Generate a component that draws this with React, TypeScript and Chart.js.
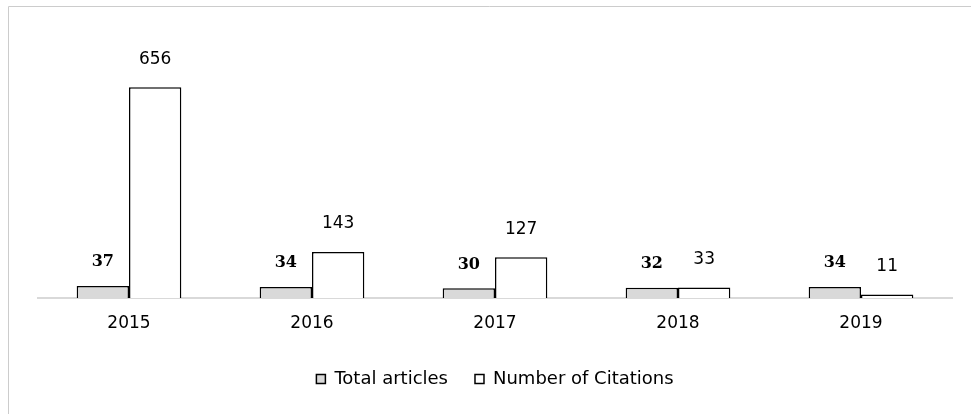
import React, { useEffect, useRef } from "react";
import { Chart, registerables } from "chart.js";

Chart.register(...registerables);

const years = ["2015", "2016", "2017", "2018", "2019"];
const totalArticles = [37, 34, 30, 32, 34];
const citations = [656, 143, 127, 33, 11];
const seriesNames = ["Total articles", "Number of Citations"];
const yMax = 700;

const valueLabelPlugin = {
  id: "valueLabels",
  afterDatasetsDraw(chart: any) {
    const ctx = chart.ctx;
    ctx.save();
    ctx.textAlign = "center";
    ctx.textBaseline = "middle";
    ctx.fillStyle = "#000000";
    chart.data.datasets.forEach((ds: any, di: number) => {
      const meta = chart.getDatasetMeta(di);
      ctx.font = di === 0 ? "bold 16px 'DejaVu Serif'" : "17px 'DejaVu Sans'";
      const off = di === 0 ? 24 : 28;
      meta.data.forEach((bar: any, i: number) => {
        ctx.fillText(String(ds.data[i]), bar.x, bar.y - off);
      });
    });
    ctx.restore();
  },
};

const framePlugin = {
  id: "frame",
  beforeDraw(chart: any) {
    const ctx = chart.ctx;
    ctx.save();
    ctx.strokeStyle = "#cccccc";
    ctx.lineWidth = 1;
    ctx.beginPath();
    ctx.moveTo(8.5, chart.height);
    ctx.lineTo(8.5, 6.5);
    ctx.lineTo(chart.width, 6.5);
    ctx.stroke();
    ctx.restore();
  },
};

export default function App() {
  const ref = useRef<HTMLCanvasElement | null>(null);

  useEffect(() => {
    if (!ref.current) return;
    const chart = new Chart(ref.current, {
      type: "bar",
      data: {
        labels: years,
        datasets: [
          {
            label: seriesNames[0],
            data: totalArticles,
            backgroundColor: "#d9d9d9",
            borderColor: "#000000",
            borderWidth: 1.5,
            categoryPercentage: 0.572,
            barPercentage: 1,
          },
          {
            label: seriesNames[1],
            data: citations,
            backgroundColor: "#ffffff",
            borderColor: "#000000",
            borderWidth: 1.5,
            categoryPercentage: 0.572,
            barPercentage: 1,
          },
        ],
      },
      options: {
        animation: false,
        responsive: false,
        layout: { padding: { left: 37.5, right: 18.5, top: 73, bottom: 16 } },
        scales: {
          x: {
            grid: { display: false, drawTicks: false },
            border: { display: true, color: "#d9d9d9", width: 2 },
            ticks: {
              color: "#000000",
              font: { family: "'DejaVu Sans'", size: 17 },
              padding: 15,
              maxRotation: 0,
              autoSkip: false,
            },
            afterFit(scale: any) {
              scale.height = 45;
            },
          },
          y: { display: false, min: 0, max: yMax },
        },
        plugins: {
          legend: {
            position: "bottom",
            labels: {
              color: "#000000",
              font: { family: "'DejaVu Sans'", size: 18 },
              boxWidth: 9,
              boxHeight: 9,
              padding: 27,
            },
          },
          tooltip: { enabled: false },
        },
      },
      plugins: [framePlugin, valueLabelPlugin],
    });
    return () => chart.destroy();
  }, []);

  return (
    <div style={{ position: "fixed", left: 0, top: 0, width: 971, height: 414, background: "#ffffff" }}>
      <canvas ref={ref} width={971} height={414} style={{ display: "block" }} />
    </div>
  );
}
